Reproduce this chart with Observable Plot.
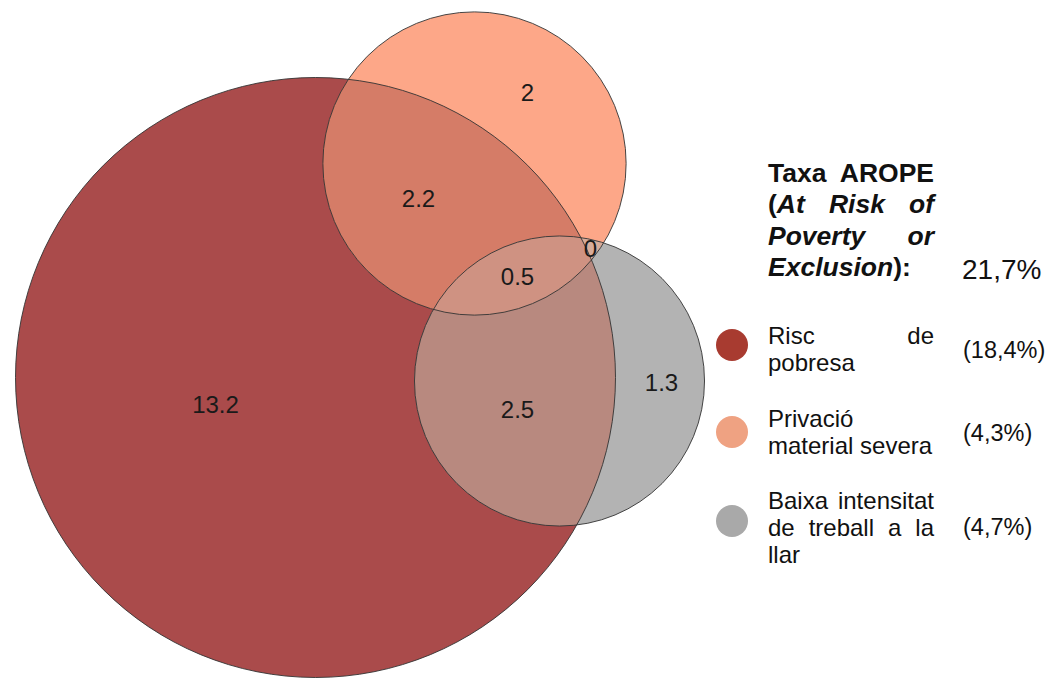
<!DOCTYPE html>
<html>
<head>
<meta charset="utf-8">
<script src="https://cdn.jsdelivr.net/npm/d3@7"></script>
<script src="https://cdn.jsdelivr.net/npm/@observablehq/plot@0.6"></script>
<style>
html, body { margin: 0; padding: 0; background: #fff; }
#wrap { position: relative; width: 1048px; height: 678px; overflow: hidden; font-family: "Liberation Sans", Arial, sans-serif; color: #111; }
#chart { position: absolute; left: 0; top: 0; }
#legend { position: absolute; left: 0; top: 0; width: 1048px; height: 678px; }
.col { position: absolute; left: 768px; width: 166px; }
.col div { text-align: justify; text-align-last: justify; }
.col div.last { text-align: left; text-align-last: left; }
.title { font-size: 26.5px; font-weight: bold; line-height: 31.3px; }
.item { font-size: 24px; line-height: 27px; }
.pct { position: absolute; left: 963px; font-size: 23.5px; line-height: 27px; white-space: nowrap; }
.big { font-size: 28px; line-height: 31px; left: 962px; }
.mk { position: absolute; width: 32px; height: 32px; border-radius: 50%; }
</style>
</head>
<body>
<div id="wrap">
  <div id="chart"></div>
  <div id="legend"></div>
</div>
<script>
// ---- data ----
const setKeys = ["R", "O", "G"];
const setNames = ["Risc de pobresa", "Privació material severa", "Baixa intensitat de treball a la llar"];
const setTotals = [18.4, 4.7, 4.3];          // sum of region values per set
const setCx = [315, 474, 559];               // diagram layout (centres)
const setCy = [377, 163, 380.5];

const regionSets = ["R", "O", "G", "RO", "RG", "OG", "ROG"];
const regionValues = [13.2, 2, 1.3, 2.2, 2.5, 0, 0.5];
const regionLabelX = [215, 527, 661, 418, 517, 590, 517];
const regionLabelY = [405, 93, 383, 199, 410, 249, 277];

const legendLines = [["Risc de", "pobresa"], ["Privació", "material severa"], ["Baixa intensitat", "de treball a la", "llar"]];
const legendPct = ["(18,4%)", "(4,3%)", "(4,7%)"];
const aropeRate = "21,7%";

// ---- colours ----
const fills = {R: "#AA4B4B", O: "#FDA788", G: "#B3B3B3", RO: "#D57C67", RG: "#B8897F", OG: "#D8AC9A", ROG: "#CF9282"};
const markerColors = ["#A83B30", "#EFA282", "#A9A9A9"];

const circles = setKeys.map((key, i) => ({key, name: setNames[i], total: setTotals[i], cx: setCx[i], cy: setCy[i]}));
const regions = regionSets.map((key, i) => ({key, value: regionValues[i], lx: regionLabelX[i], ly: regionLabelY[i]}));
const one = k => circles.filter(d => d.key === k);
const pos = {x: "cx", y: "cy", r: "total"};

const plot = Plot.plot({
  width: 1048,
  height: 678,
  margin: 0,
  style: {fontFamily: "Liberation Sans, Arial, sans-serif", background: "transparent"},
  x: {domain: [0, 1048], range: [0, 1048], axis: null},
  y: {domain: [0, 678], range: [0, 678], axis: null},
  r: {type: "sqrt", domain: [0, d3.max(setTotals)], range: [0, 300]},
  marks: [
    Plot.dot(one("R"), {...pos, fill: fills.R}),
    Plot.dot(one("O"), {...pos, fill: fills.O}),
    Plot.dot(one("G"), {...pos, fill: fills.G}),
    Plot.dot(one("R"), {...pos, fill: fills.RO}),   // clipped to O
    Plot.dot(one("R"), {...pos, fill: fills.RG}),   // clipped to G
    Plot.dot(one("O"), {...pos, fill: fills.OG}),   // clipped to G
    Plot.dot(one("R"), {...pos, fill: fills.ROG}),  // clipped to O and G
    Plot.dot(circles, {...pos, fill: "none", stroke: "#333", strokeWidth: 1, strokeOpacity: 0.9}),
    Plot.text(regions, {x: "lx", y: "ly", text: d => String(d.value), fontSize: 24, fill: "#1a1a1a"})
  ]
});

const sx = plot.scale("x"), sy = plot.scale("y"), sr = plot.scale("r");
const svg = d3.select(plot);
const defs = svg.insert("defs", ":first-child");
circles.forEach(c => {
  defs.append("clipPath").attr("id", "clip-" + c.key)
    .append("circle")
    .attr("cx", sx.apply(c.cx))
    .attr("cy", sy.apply(c.cy))
    .attr("r", sr.apply(c.total));
});
const dotGroups = svg.selectAll('g[aria-label="dot"]').nodes();
d3.select(dotGroups[3]).attr("clip-path", "url(#clip-O)");
d3.select(dotGroups[4]).attr("clip-path", "url(#clip-G)");
d3.select(dotGroups[5]).attr("clip-path", "url(#clip-G)");
d3.select(dotGroups[6]).attr("clip-path", "url(#clip-O)").selectAll("circle").attr("clip-path", "url(#clip-G)");

document.getElementById("chart").appendChild(plot);

// ---- legend ----
const lg = document.getElementById("legend");
const title = document.createElement("div");
title.className = "col title";
title.style.top = "158px";
title.innerHTML = '<div>Taxa AROPE</div><div>(<i>At Risk of</i></div><div><i>Poverty or</i></div><div class="last"><i>Exclusion</i>):</div>';
lg.appendChild(title);
const rate = document.createElement("div");
rate.className = "pct big";
rate.style.top = (269 - 15.5) + "px";
rate.textContent = aropeRate;
lg.appendChild(rate);

const itemTops = [321.5, 404.5, 486.5];
const pctCenters = [350, 433, 527];
const markerCenters = [345, 432, 521];
legendLines.forEach((lines, i) => {
  const col = document.createElement("div");
  col.className = "col item";
  col.style.top = itemTops[i] + "px";
  col.innerHTML = lines.map((t, j) => `<div class="${j === lines.length - 1 ? "last" : ""}">${t}</div>`).join("");
  lg.appendChild(col);
  const p = document.createElement("div");
  p.className = "pct";
  p.style.top = (pctCenters[i] - 13.5) + "px";
  p.textContent = legendPct[i];
  lg.appendChild(p);
  const m = document.createElement("div");
  m.className = "mk";
  m.style.left = (732 - 16) + "px";
  m.style.top = (markerCenters[i] - 16) + "px";
  m.style.background = markerColors[i];
  lg.appendChild(m);
});
</script>
</body>
</html>
